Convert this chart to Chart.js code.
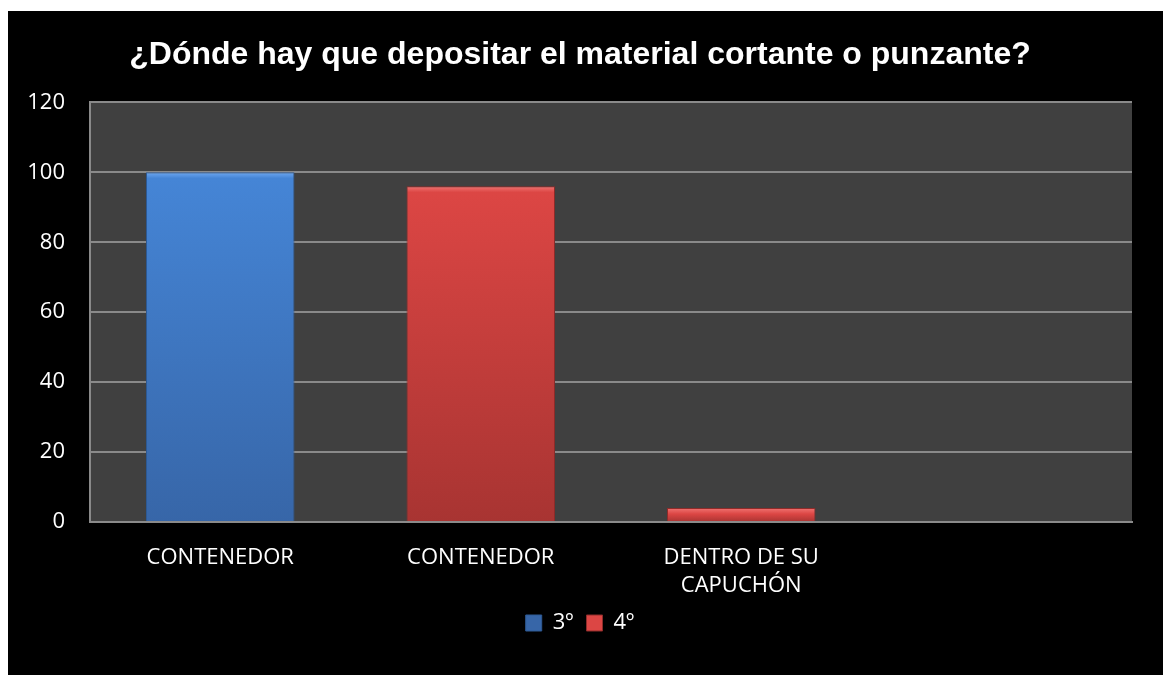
<!DOCTYPE html>
<html>
<head>
<meta charset="utf-8">
<script src="https://cdn.jsdelivr.net/npm/chart.js@4/dist/chart.umd.min.js"></script>
<style>
  html, body { margin: 0; padding: 0; background: #ffffff; }
  #wrap { position: absolute; left: 8px; top: 11px; width: 1155px; height: 664px; background: #000000; }
</style>
</head>
<body>
<div id="wrap"><canvas id="myChart"></canvas></div>
<script>
var titleText = "¿Dónde hay que depositar el material cortante o punzante?";
var xValues = ["CONTENEDOR", "CONTENEDOR", ["DENTRO DE SU", "CAPUCHÓN"], ""];
var serie3 = [100, null, null, null];
var serie4 = [null, 96, 4, null];
var seriesNames = ["3º", "4º"];
var yTicks = [0, 20, 40, 60, 80, 100, 120];

// vertical gradient per bar, with a light strip on top like the bevel
function barFill(light, top, bottom) {
  return function (ctx) {
    var chart = ctx.chart;
    if (!chart.chartArea || ctx.raw == null) return top;
    var y = chart.scales.y;
    var y0 = y.getPixelForValue(ctx.raw);
    var y1 = y.getPixelForValue(0);
    var h = Math.max(y1 - y0, 1);
    var s = Math.min(6 / h, 0.5);
    var g = chart.ctx.createLinearGradient(0, y0, 0, y1);
    g.addColorStop(0, light);
    g.addColorStop(s, top);
    g.addColorStop(1, bottom);
    return g;
  };
}

var plotBg = {
  id: "plotBg",
  beforeDraw: function (chart) {
    var a = chart.chartArea, c = chart.ctx;
    c.save();
    c.fillStyle = "#404040";
    c.fillRect(a.left, a.top, a.right - a.left, a.bottom - a.top);
    c.restore();
  }
};

new Chart("myChart", {
  type: "bar",
  data: {
    labels: xValues,
    datasets: [{
      label: seriesNames[0],
      data: serie3,
      backgroundColor: barFill("#6ea8f0", "#4585d6", "#3766a8"),
      borderColor: "#2e5a94",
      borderWidth: 1,
      skipNull: true
    }, {
      label: seriesNames[1],
      data: serie4,
      backgroundColor: barFill("#f07472", "#dc4644", "#a83432"),
      borderColor: "#8e2c2a",
      borderWidth: 1,
      skipNull: true
    }]
  },
  options: {
    responsive: true,
    maintainAspectRatio: false,
    animation: false,
    layout: { padding: { left: 20, right: 31, top: 0, bottom: 31 } },
    datasets: { bar: { barPercentage: 0.57, categoryPercentage: 1 } },
    plugins: {
      tooltip: { enabled: false },
      title: {
        display: true,
        text: titleText,
        color: "#ffffff",
        font: { family: "Liberation Sans", size: 32, weight: "bold" },
        padding: { top: 25, bottom: 28 }
      },
      legend: {
        position: "bottom",
        labels: {
          color: "#ffffff",
          font: { family: "Open Sans", size: 22 },
          boxWidth: 16,
          boxHeight: 16,
          padding: 13
        }
      }
    },
    scales: {
      x: {
        afterFit: function (s) { s.height = 77; },
        grid: { display: false, drawTicks: false },
        border: { display: true, color: "#8a8a8a", width: 2 },
        ticks: {
          color: "#ffffff",
          font: { family: "Open Sans", size: 22, lineHeight: 1.3 },
          padding: 21,
          maxRotation: 0,
          autoSkip: false
        }
      },
      y: {
        min: 0,
        max: 120,
        afterBuildTicks: function (s) { s.ticks = yTicks.map(function (v) { return { value: v }; }); },
        afterFit: function (s) { s.width = 62; },
        grid: { color: "#8a8a8a", lineWidth: 2, drawTicks: false },
        border: { display: true, color: "#8a8a8a", width: 2 },
        ticks: {
          color: "#ffffff",
          font: { family: "Open Sans", size: 22 },
          padding: 25
        }
      }
    }
  },
  plugins: [plotBg]
});
</script>
</body>
</html>
